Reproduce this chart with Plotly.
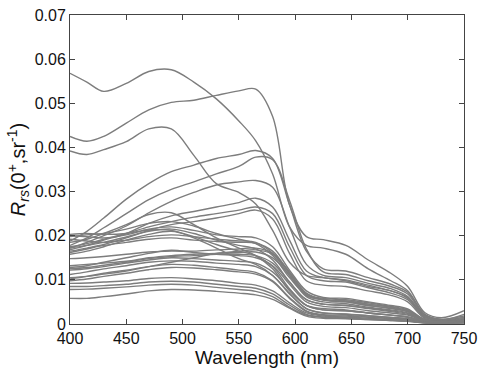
import plotly.graph_objects as go

wavelength = [400, 415, 430, 450, 470, 490, 510, 530, 550, 565, 580, 595, 610, 625, 645, 665, 685, 700, 715, 730, 750]

rrs_a = [.0568, .0548, .0527, .0545, .0572, .0576, .0548, .0510, .0460, .0415, .0340, .0220, .0178, .0172, .0158, .0125, .0098, .0075, .0022, .0010, .0022]
rrs_b = [.0425, .0414, .0425, .0455, .0485, .0502, .0507, .0518, .0528, .0532, .0470, .0270, .0198, .0191, .0178, .0145, .0115, .0085, .0026, .0014, .0030]
rrs_c = [.0392, .0384, .0395, .0413, .0442, .0442, .0382, .0318, .0298, .0272, .0212, .0140, .0110, .0105, .0098, .0085, .0075, .0058, .0018, .0010, .0015]
rrs_d = [.0188, .0210, .0240, .0283, .0318, .0345, .0360, .0375, .0384, .0393, .0375, .0270, .0165, .0125, .0120, .0105, .0090, .0072, .0022, .0011, .0018]
rrs_e = [.0178, .0195, .0218, .0250, .0282, .0305, .0322, .0340, .0357, .0378, .0372, .0280, .0170, .0118, .0112, .0098, .0085, .0068, .0020, .0010, .0015]
rrs_f = [.0172, .0185, .0200, .0222, .0252, .0278, .0298, .0315, .0322, .0325, .0310, .0220, .0135, .0110, .0105, .0092, .0080, .0062, .0018, .0009, .0012]
rrs_g = [.0168, .0178, .0190, .0205, .0228, .0245, .0255, .0265, .0275, .0285, .0265, .0190, .0120, .0105, .0100, .0088, .0075, .0060, .0016, .0008, .0012]
rrs_h = [.0175, .0182, .0192, .0205, .0220, .0232, .0242, .0250, .0258, .0265, .0250, .0175, .0110, .0098, .0095, .0082, .0070, .0055, .0015, .0008, .0010]
rrs_i = [.0165, .0172, .0180, .0195, .0212, .0225, .0232, .0240, .0250, .0258, .0238, .0160, .0098, .0088, .0085, .0075, .0065, .0050, .0013, .0007, .0010]
rrs_j = [.0185, .0192, .0205, .0225, .0248, .0252, .0225, .0195, .0172, .0155, .0125, .0075, .0042, .0035, .0032, .0025, .0020, .0015, .0007, .0005, .0007]
rrs_k = [.0198, .0202, .0205, .0215, .0228, .0232, .0222, .0205, .0192, .0182, .0155, .0105, .0065, .0055, .0052, .0045, .0038, .0030, .0009, .0005, .0008]
rrs_l = [.0200, .0198, .0195, .0202, .0215, .0220, .0212, .0202, .0198, .0195, .0175, .0122, .0075, .0060, .0058, .0050, .0042, .0034, .0010, .0006, .0009]
rrs_m = [.0172, .0178, .0185, .0197, .0210, .0215, .0205, .0190, .0178, .0170, .0145, .0095, .0055, .0045, .0042, .0036, .0030, .0024, .0008, .0005, .0007]
rrs_n = [.0158, .0165, .0175, .0190, .0203, .0210, .0198, .0180, .0165, .0155, .0130, .0080, .0042, .0032, .0030, .0025, .0020, .0016, .0006, .0004, .0006]
rrs_o = [.0203, .0205, .0203, .0205, .0213, .0212, .0195, .0172, .0148, .0135, .0110, .0068, .0035, .0025, .0022, .0018, .0015, .0012, .0005, .0004, .0006]
rrs_p = [.0162, .0170, .0178, .0185, .0192, .0195, .0190, .0187, .0185, .0183, .0165, .0115, .0068, .0058, .0055, .0048, .0040, .0032, .0010, .0005, .0008]
rrs_q = [.0148, .0150, .0153, .0158, .0163, .0165, .0165, .0168, .0170, .0172, .0160, .0118, .0070, .0055, .0050, .0042, .0035, .0028, .0009, .0005, .0007]
rrs_r = [.0128, .0132, .0140, .0150, .0160, .0167, .0162, .0158, .0155, .0150, .0132, .0090, .0050, .0040, .0037, .0030, .0025, .0020, .0007, .0004, .0006]
rrs_s = [.0132, .0135, .0138, .0142, .0150, .0155, .0158, .0160, .0162, .0163, .0150, .0110, .0062, .0050, .0046, .0038, .0032, .0025, .0008, .0004, .0006]
rrs_t = [.0122, .0125, .0130, .0138, .0145, .0150, .0148, .0145, .0142, .0138, .0118, .0078, .0042, .0032, .0030, .0025, .0020, .0016, .0006, .0004, .0006]
rrs_u = [.0112, .0118, .0125, .0132, .0140, .0143, .0142, .0138, .0135, .0130, .0110, .0070, .0035, .0025, .0023, .0019, .0015, .0012, .0005, .0003, .0005]
rrs_v = [.0102, .0108, .0115, .0122, .0130, .0135, .0133, .0128, .0122, .0117, .0098, .0060, .0030, .0021, .0020, .0016, .0013, .0010, .0004, .0003, .0005]
rrs_w = [.0098, .0102, .0108, .0115, .0123, .0128, .0127, .0123, .0118, .0113, .0096, .0058, .0028, .0020, .0018, .0015, .0012, .0009, .0004, .0003, .0004]
rrs_x = [.0125, .0128, .0133, .0140, .0148, .0153, .0155, .0158, .0158, .0155, .0138, .0095, .0055, .0045, .0042, .0035, .0028, .0022, .0007, .0004, .0006]
rrs_y = [.0092, .0093, .0095, .0098, .0103, .0105, .0102, .0098, .0092, .0088, .0075, .0048, .0025, .0018, .0016, .0013, .0010, .0008, .0003, .0002, .0004]
rrs_z = [.0085, .0085, .0087, .0090, .0095, .0097, .0095, .0090, .0085, .0081, .0068, .0043, .0022, .0016, .0014, .0011, .0009, .0007, .0003, .0002, .0003]
rrs_aa = [.0078, .0079, .0081, .0084, .0088, .0090, .0088, .0083, .0078, .0074, .0062, .0038, .0020, .0015, .0013, .0010, .0008, .0006, .0003, .0002, .0003]
rrs_ab = [.0058, .0058, .0062, .0068, .0075, .0078, .0077, .0074, .0070, .0066, .0056, .0036, .0018, .0013, .0012, .0010, .0008, .0006, .0003, .0002, .0003]
rrs_ac = [.0105, .0108, .0113, .0120, .0130, .0140, .0150, .0160, .0165, .0168, .0158, .0115, .0068, .0055, .0050, .0042, .0036, .0028, .0009, .0005, .0007]
rrs_ad = [.0192, .0188, .0185, .0190, .0198, .0202, .0198, .0192, .0188, .0185, .0160, .0110, .0065, .0055, .0052, .0045, .0038, .0030, .0009, .0005, .0008]

spectra = [rrs_a, rrs_b, rrs_c, rrs_d, rrs_e, rrs_f, rrs_g, rrs_h, rrs_i, rrs_j,
           rrs_k, rrs_l, rrs_m, rrs_n, rrs_o, rrs_p, rrs_q, rrs_r, rrs_s, rrs_t,
           rrs_u, rrs_v, rrs_w, rrs_x, rrs_y, rrs_z, rrs_aa, rrs_ab, rrs_ac, rrs_ad]

x_ticks = [400, 450, 500, 550, 600, 650, 700, 750]
y_ticks = [0, 0.01, 0.02, 0.03, 0.04, 0.05, 0.06, 0.07]
y_tick_text = ["0", "0.01", "0.02", "0.03", "0.04", "0.05", "0.06", "0.07"]

fig = go.Figure()
for s in spectra:
    fig.add_trace(go.Scatter(
        x=wavelength, y=s, mode="lines",
        line=dict(color="rgb(125,125,125)", width=1.4, shape="spline", smoothing=1.0),
        showlegend=False, hoverinfo="skip"))

font_family = "Liberation Sans, Arial, Helvetica, sans-serif"
axis_common = dict(
    showgrid=False, zeroline=False, showline=True, linecolor="#444", linewidth=1,
    mirror="ticks", ticks="inside", ticklen=5, tickcolor="#444",
    ticklabeloverflow="allow",
    tickfont=dict(family=font_family, size=16, color="#111"),
)

fig.update_layout(
    width=484, height=371,
    margin=dict(l=70, r=13, t=7, b=47),
    paper_bgcolor="white", plot_bgcolor="white",
    xaxis=dict(range=[400, 750], tickvals=x_ticks,
               title=dict(text="Wavelength (nm)", font=dict(family=font_family, size=19, color="#111"), standoff=0),
               **axis_common),
    yaxis=dict(range=[0, 0.07], tickvals=y_ticks, ticktext=y_tick_text,
               title=dict(text="<i>R<sub>rs</sub></i>(0<sup>+</sup>,sr<sup>-1</sup>)",
                          font=dict(family=font_family, size=20, color="#111"), standoff=3),
               **axis_common),
)

fig.write_html("out.html", config={"displayModeBar": False},
               post_script="document.body.style.margin='0';")
